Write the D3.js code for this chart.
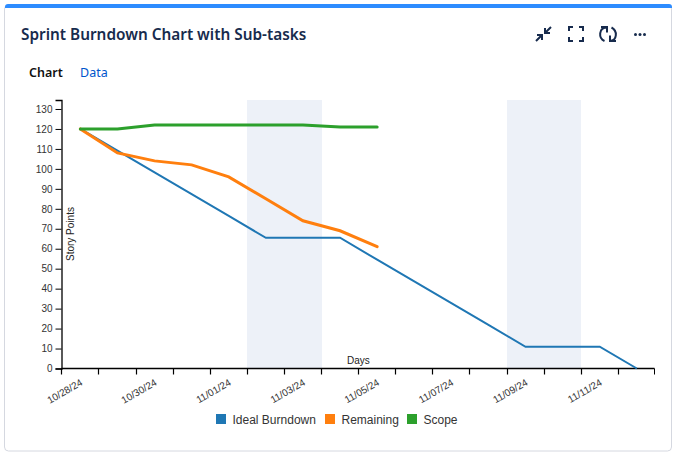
<!DOCTYPE html>
<html>
<head>
<meta charset="utf-8">
<script src="https://cdn.jsdelivr.net/npm/d3@7"></script>
<style>
    html, body { margin: 0; padding: 0; background: #fff; }
    svg { display: block; }
    text { font-family: "Liberation Sans", Arial, sans-serif; }
    .head { font-family: "Noto Sans", sans-serif; }
</style>
</head>
<body>
<svg id="chart" width="674" height="456"></svg>
<script>
const days = ["10/28/24", "10/29/24", "10/30/24", "10/31/24", "11/01/24", "11/02/24", "11/03/24", "11/04/24",
    "11/05/24", "11/06/24", "11/07/24", "11/08/24", "11/09/24", "11/10/24", "11/11/24", "11/12/24"];
const tickLabels = ["10/28/24", "10/30/24", "11/01/24", "11/03/24", "11/05/24", "11/07/24", "11/09/24", "11/11/24"];
const idealBurndown = [120, 109.1, 98.2, 87.3, 76.4, 65.5, 65.5, 65.5, 54.5, 43.6, 32.7, 21.8, 10.9, 10.9, 10.9, 0];
const remaining = [120, 108, 104, 102, 96, 85, 74, 69, 61];
const scope = [120, 120, 122, 122, 122, 122, 122, 121, 121];
const weekendDays = ["11/02/24", "11/03/24", "11/09/24", "11/10/24"];
const seriesNames = ["Ideal Burndown", "Remaining", "Scope"];
const seriesColors = ["#1f77b4", "#ff7f0e", "#2ca02c"];

const svg = d3.select("#chart");

// card
svg.append("rect").attr("x", 4.5).attr("y", 5).attr("width", 667).attr("height", 446).attr("rx", 4)
    .attr("fill", "#fff").attr("stroke", "#d5d8e0");
svg.append("path").attr("d", "M5 8V7a3 3 0 0 1 3-3H669a3 3 0 0 1 3 3V8Z").attr("fill", "#2d8cff");

// header
svg.append("text").attr("class", "head").attr("x", 21).attr("y", 40)
    .attr("font-size", 15.35).attr("font-weight", 600).attr("fill", "#172b4d")
    .text("Sprint Burndown Chart with Sub-tasks");
svg.append("text").attr("class", "head").attr("x", 29).attr("y", 77)
    .attr("font-size", 12.5).attr("font-weight", 600).attr("fill", "#111").text("Chart");
svg.append("text").attr("class", "head").attr("x", 80).attr("y", 77)
    .attr("font-size", 12.5).attr("fill", "#0055cc").text("Data");

// toolbar icons
const icons = svg.append("g").attr("fill", "none").attr("stroke", "#172b4d").attr("stroke-width", 2);
icons.append("path").attr("d", "M536 41L542 35M537 35H542V40M551 27L545 33M545 28V33H550");
icons.append("path").attr("d", "M573 27H569V31M579 27H583V31M573 41H569V37M579 41H583V37");
icons.append("path").attr("d", "M606 27.5C599 28 598 38 604.5 41M601 27H607V32.5");
icons.append("path").attr("d", "M610 41C617 40.5 618 31 611.5 27.5M616 41H610V35.5");
icons.append("g").attr("fill", "#172b4d").attr("stroke", "none")
    .selectAll("circle").data([635.5, 640, 644.5]).join("circle")
    .attr("cx", d => d).attr("cy", 34.5).attr("r", 1.5);

// scales
const x = d3.scaleBand().domain(days).range([61.8, 655.4]);
const y = d3.scaleLinear().domain([0, 134.5]).range([368.5, 100]);
const axisLeftX = 61.5;
const axisRightX = 654.5;

// shaded non working days
svg.append("g").attr("shape-rendering", "crispEdges").selectAll("rect").data(weekendDays).join("rect")
    .attr("x", d => x(d)).attr("y", y(134.5)).attr("width", x.bandwidth()).attr("height", y(0) - y(134.5))
    .attr("fill", "#edf1f8");

// axes
const xAxis = svg.append("g").attr("transform", `translate(0,${y(0)})`)
    .call(d3.axisBottom(x).tickFormat(""));
xAxis.selectAll(".tick").attr("transform", d => `translate(${Math.round(x(d) - 0.5) + 0.5},0)`);
xAxis.append("path").attr("d", `M${axisRightX} 0V6`).attr("stroke", "#000");
xAxis.select(".domain").attr("d", `M${axisLeftX} 0H${axisRightX}`).attr("stroke-width", 1.3);
xAxis.selectAll("line").attr("stroke-width", 1.2);
svg.append("g").selectAll("text").data(tickLabels).join("text")
    .attr("transform", d => `translate(${x(d) + x.bandwidth() / 2 + 3},${y(0) + 16}) rotate(-30)`)
    .attr("text-anchor", "end").attr("font-size", 10).attr("fill", "#333").text(d => d);

const yAxis = svg.append("g").attr("transform", `translate(${axisLeftX},0)`)
    .call(d3.axisLeft(y).tickValues(d3.range(0, 131, 10)));
yAxis.selectAll("text").attr("font-size", 10).attr("font-family", "Liberation Sans").attr("fill", "#333");
yAxis.select(".domain").attr("stroke-width", 1.3);

svg.append("text").attr("transform", "translate(74,261) rotate(-90)")
    .attr("font-size", 10).attr("fill", "#222").text("Story Points");
svg.append("text").attr("x", 347).attr("y", 364)
    .attr("font-size", 10).attr("fill", "#222").text("Days");

// lines
const line = d3.line().x((d, i) => x(days[i]) + x.bandwidth() / 2).y(d => y(d));
[idealBurndown, remaining, scope].forEach((values, i) => {
    svg.append("path").datum(values).attr("d", line).attr("fill", "none")
        .attr("stroke", seriesColors[i]).attr("stroke-width", i === 0 ? 2 : 3)
        .attr("stroke-linecap", i === 0 ? "butt" : "round");
});

// legend
const legendX = d3.scaleOrdinal().domain(seriesNames).range([216, 325, 407]);
const legend = svg.append("g").selectAll("g").data(seriesNames).join("g")
    .attr("transform", d => `translate(${legendX(d)},414)`);
legend.append("rect").attr("width", 10).attr("height", 10).attr("fill", (d, i) => seriesColors[i]);
legend.append("text").attr("x", 16.5).attr("y", 10).attr("font-size", 12).attr("fill", "#333").text(d => d);
</script>
</body>
</html>
